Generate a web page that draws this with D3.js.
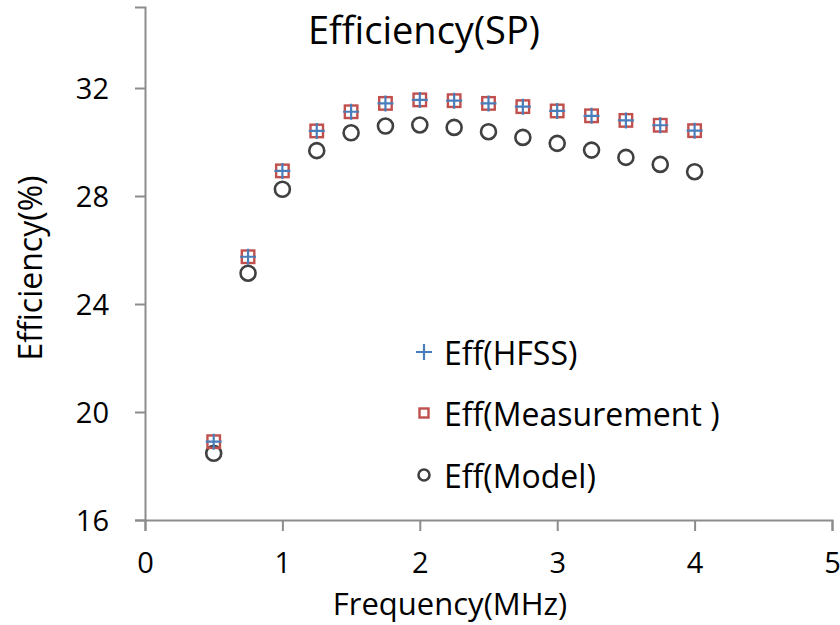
<!DOCTYPE html>
<html>
<head>
<meta charset="utf-8">
<script src="https://cdn.jsdelivr.net/npm/d3@7"></script>
<style>
  body { margin: 0; background: #fff; }
  text { font-family: "Open Sans", sans-serif; fill: #000; }
</style>
</head>
<body>
<div id="main"></div>
<script>
// data
const freq = [0.5, 0.75, 1, 1.25, 1.5, 1.75, 2, 2.25, 2.5, 2.75, 3, 3.25, 3.5, 3.75, 4];
const effHFSS = [18.9, 25.75, 28.93, 30.41, 31.12, 31.43, 31.56, 31.53, 31.43, 31.31, 31.15, 30.97, 30.8, 30.62, 30.42];
const effMeas = [18.9, 25.75, 28.93, 30.41, 31.12, 31.43, 31.56, 31.53, 31.43, 31.31, 31.15, 30.97, 30.8, 30.62, 30.42];
const effModel = [18.47, 25.14, 28.25, 29.68, 30.34, 30.59, 30.63, 30.54, 30.38, 30.17, 29.95, 29.7, 29.43, 29.17, 28.9];
const xTicks = [0, 1, 2, 3, 4, 5];
const yTicks = [16, 20, 24, 28, 32];
const legendNames = ["Eff(HFSS)", "Eff(Measurement )", "Eff(Model)"];

const width = 840, height = 625;
const svg = d3.select("#main").append("svg")
    .attr("width", width)
    .attr("height", height);

const x = d3.scaleLinear().domain([0, 5]).range([145, 832]);
const y = d3.scaleLinear().domain([16, 35]).range([520, 7]);

const axisColor = "#8c8c8c";

// x axis
const gx = svg.append("g")
    .attr("transform", `translate(0,${y(16)})`)
    .call(d3.axisBottom(x).tickValues(xTicks).tickFormat(d3.format("d")).tickSize(11).tickPadding(21));
gx.select(".domain").attr("stroke", axisColor).attr("stroke-width", 2);
gx.selectAll(".tick line").attr("stroke", axisColor).attr("stroke-width", 2);
gx.selectAll(".tick text").style("font-size", "29px").attr("fill", "#000");

// y axis
const gy = svg.append("g")
    .attr("transform", `translate(${x(0)},0)`)
    .call(d3.axisLeft(y).tickValues(yTicks).tickFormat(d3.format("d")).tickSize(10).tickPadding(26));
gy.select(".domain").attr("stroke", axisColor).attr("stroke-width", 2);
gy.selectAll(".tick line").attr("stroke", axisColor).attr("stroke-width", 2);
gy.selectAll(".tick text").style("font-size", "29px").attr("fill", "#000").attr("dy", "0.36em");

// titles
svg.append("text")
    .attr("x", 424).attr("y", 44)
    .attr("text-anchor", "middle")
    .style("font-size", "38px")
    .text("Efficiency(SP)");

svg.append("text")
    .attr("x", 450).attr("y", 615)
    .attr("text-anchor", "middle")
    .style("font-size", "31px")
    .text("Frequency(MHz)");

svg.append("text")
    .attr("transform", "translate(42,268) rotate(-90)")
    .attr("text-anchor", "middle")
    .style("font-size", "32px")
    .text("Efficiency(%)");

// markers
const blue = "#4a7ebb", red = "#c0504d", dark = "#404040";

function drawSquare(g, cx, cy, s) {
    g.append("rect")
        .attr("x", cx - s / 2).attr("y", cy - s / 2)
        .attr("width", s).attr("height", s)
        .attr("fill", "none").attr("stroke", red).attr("stroke-width", 2.4);
}
function drawPlus(g, cx, cy, s) {
    g.append("path")
        .attr("d", `M${cx - s / 2},${cy}H${cx + s / 2}M${cx},${cy - s / 2}V${cy + s / 2}`)
        .attr("stroke", blue).attr("stroke-width", 2.2).attr("fill", "none");
}
function drawCircle(g, cx, cy, r) {
    g.append("circle")
        .attr("cx", cx).attr("cy", cy).attr("r", r)
        .attr("fill", "none").attr("stroke", dark).attr("stroke-width", 2.6);
}

const pts = svg.append("g");
freq.forEach((f, i) => {
    drawCircle(pts, x(f), y(effModel[i]), 7.5);
});
freq.forEach((f, i) => {
    drawSquare(pts, x(f), y(effMeas[i]), 12.5);
});
freq.forEach((f, i) => {
    drawPlus(pts, x(f), y(effHFSS[i]), 16);
});

// legend
const legend = svg.append("g");
const legY = [352, 413, 475];
drawPlus(legend, 424, legY[0], 16);
drawSquare(legend, 424, legY[1], 9);
drawCircle(legend, 424, legY[2], 5.5);
legendNames.forEach((n, i) => {
    legend.append("text")
        .attr("x", 444).attr("y", legY[i] + 13)
        .style("font-size", "32px")
        .text(n);
});
</script>
</body>
</html>
